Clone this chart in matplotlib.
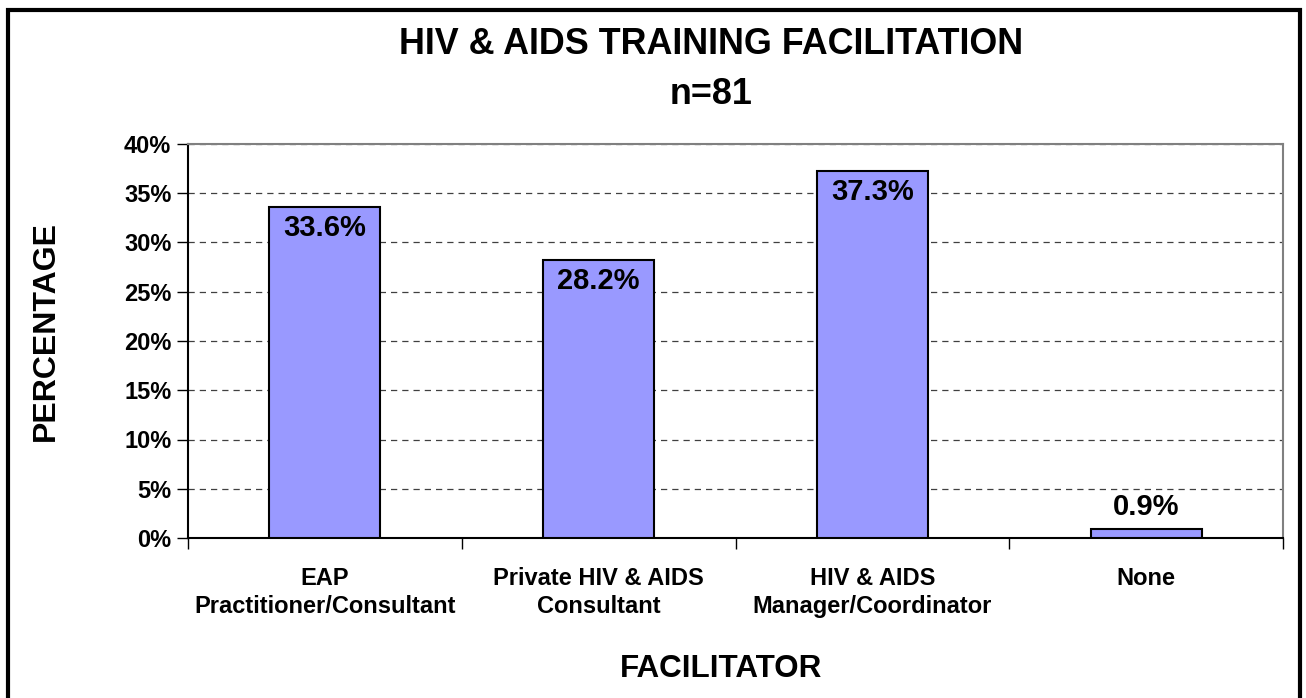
import matplotlib
matplotlib.use("Agg")
import matplotlib.pyplot as plt
from matplotlib.patches import Rectangle
from matplotlib.ticker import FixedLocator, PercentFormatter

plt.rcParams['font.family'] = ['Liberation Sans', 'DejaVu Sans']
plt.rcParams['font.weight'] = 'bold'

categories = ["EAP\nPractitioner/Consultant", "Private HIV & AIDS\nConsultant",
              "HIV & AIDS\nManager/Coordinator", "None"]
values = [33.6, 28.2, 37.3, 0.9]
yticks = [0, 5, 10, 15, 20, 25, 30, 35, 40]

W, H = 1306, 698
fig = plt.figure(figsize=(W / 100, H / 100), dpi=100)
ax = fig.add_axes([188 / W, 1 - 538 / H, (1283 - 188) / W, (538 - 144) / H])

x = list(range(len(categories)))
ax.bar(x, values, width=0.405, color='#9999FF', edgecolor='black', linewidth=1.5, zorder=3)

ax.set_xlim(-0.5, len(categories) - 0.5)
ax.set_ylim(0, 40)
ax.set_yticks(yticks)
ax.yaxis.set_major_formatter(PercentFormatter(decimals=0))
ax.tick_params(axis='y', direction='out', length=8, width=1, labelsize=17, pad=4)
ax.set_xticks(x)
ax.set_xticklabels(categories, fontsize=17, fontweight='bold', linespacing=1.25)
ax.tick_params(axis='x', which='major', length=0, pad=21)
ax.xaxis.set_minor_locator(FixedLocator([i - 0.5 for i in range(len(categories) + 1)]))
ax.tick_params(axis='x', which='minor', direction='out', length=8, width=1)
for lbl in ax.get_yticklabels():
    lbl.set_fontweight('bold')

ax.yaxis.grid(True, linestyle=(0, (5, 4)), color='#404040', linewidth=0.9, zorder=0)
ax.set_axisbelow(True)
for side in ['top', 'right']:
    ax.spines[side].set_color('#808080')
    ax.spines[side].set_linewidth(1.5)
for side in ['left', 'bottom']:
    ax.spines[side].set_color('black')
    ax.spines[side].set_linewidth(1.5)

for xi, v in zip(x, values):
    if v > 5:
        ax.annotate(f"{v:.1f}%", (xi, v), xytext=(0, -21), textcoords='offset pixels',
                    ha='center', va='center', fontsize=21, fontweight='bold', zorder=4)
    else:
        ax.annotate(f"{v:.1f}%", (xi, v), xytext=(0, 22), textcoords='offset pixels',
                    ha='center', va='center', fontsize=21, fontweight='bold', zorder=4)

fig.text(46 / W, 1 - 331 / H, "PERCENTAGE", rotation=90, ha='center', va='center',
         fontsize=23, fontweight='bold')
fig.text(721 / W, 1 - 669 / H, "FACILITATOR", ha='center', va='center', fontsize=22.6, fontweight='bold')
fig.text(711 / W, 1 - 44 / H, "HIV & AIDS TRAINING FACILITATION", ha='center', va='center',
         fontsize=25.8, fontweight='bold')
fig.text(711 / W, 1 - 94 / H, "n=81", ha='center', va='center', fontsize=25.8, fontweight='bold')

border = Rectangle((8 / W, -0.05), (1300 - 8) / W, 1.05 - 10 / H, transform=fig.transFigure,
                   fill=False, edgecolor='black', linewidth=3, clip_on=False)
fig.patches.append(border)

fig.savefig("out.png", dpi=100)
